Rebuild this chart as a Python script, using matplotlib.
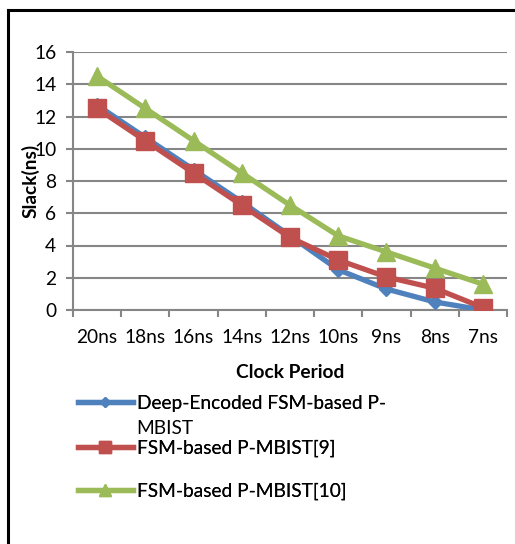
import matplotlib.pyplot as plt
from matplotlib.lines import Line2D
import numpy as np

periods = ['20ns', '18ns', '16ns', '14ns', '12ns', '10ns', '9ns', '8ns', '7ns']
deep_encoded = [12.7, 10.7, 8.7, 6.7, 4.6, 2.5, 1.3, 0.5, 0.0]
fsm_9 = [12.5, 10.5, 8.5, 6.5, 4.5, 3.1, 2.05, 1.35, 0.15]
fsm_10 = [14.5, 12.5, 10.5, 8.5, 6.5, 4.6, 3.6, 2.6, 1.6]

plt.rcParams['font.family'] = ['Lato', 'DejaVu Sans']
fs = 13.8

W, H = 515, 544
fig = plt.figure(figsize=(W / 100, H / 100), dpi=100)
ax = fig.add_axes([73 / W, 1 - 310 / H, 434 / W, 258 / H])

x = np.arange(len(periods))
grey = '#868686'

# axes and grid
ax.set_xlim(-0.5, len(periods) - 0.5)
ax.set_ylim(0, 16)
ax.set_yticks(range(0, 17, 2))
ax.yaxis.grid(True, color=grey, lw=1.5)
ax.set_axisbelow(True)
for s in ['top', 'right']:
    ax.spines[s].set_visible(False)
for s in ['left', 'bottom']:
    ax.spines[s].set_color(grey)
    ax.spines[s].set_linewidth(1.5)
ax.set_xticks(np.arange(-0.5, len(periods), 1.0))
ax.set_xticklabels([])
ax.set_xticks(x, minor=True)
ax.set_xticklabels(periods, minor=True, fontsize=fs)
ax.tick_params(axis='x', which='major', length=5, width=1.5, color=grey)
ax.tick_params(axis='x', which='minor', length=0, pad=14)
ax.tick_params(axis='y', length=5, width=1.5, color=grey, labelsize=fs, pad=7)

l1, = ax.plot(x, deep_encoded, color='#4F81BD', lw=3.8, marker='D', ms=7, zorder=3)
l2, = ax.plot(x, fsm_9, color='#C0504D', lw=3.8, marker='s', ms=12.5, zorder=4)
l3, = ax.plot(x, fsm_10, color='#9BBB59', lw=3.8, marker='^', ms=13.5, zorder=2)

ax.set_ylabel('Slack(ns)', fontsize=fs, fontweight='bold', va='center')
ax.yaxis.set_label_coords(-0.097, 0.5)
ax.set_xlabel('Clock Period', fontsize=fs, fontweight='bold', labelpad=13)

# legend entries placed one by one (Excel style layout)
def entry(handle, label, ytop):
    lg = fig.legend([handle], [label], loc='upper left',
                    bbox_to_anchor=(78 / W, 1 - ytop / H), frameon=False,
                    fontsize=fs, handlelength=2.85, handletextpad=0.25,
                    borderpad=0, borderaxespad=0)
    return lg

h1 = Line2D([], [], color='#4F81BD', lw=3.8, marker='D', ms=5)
h2 = Line2D([], [], color='#C0504D', lw=3.8, marker='s', ms=9)
h3 = Line2D([], [], color='#9BBB59', lw=3.8, marker='^', ms=9)
fig.add_artist(entry(h1, 'Deep-Encoded FSM-based P-', 395))
fig.text(136 / W, 1 - 428 / H, 'MBIST', fontsize=fs, va='center')
fig.add_artist(entry(h2, 'FSM-based P-MBIST[9]', 440))
fig.add_artist(entry(h3, 'FSM-based P-MBIST[10]', 483))

# outer frame lines (top and left only visible)
fig.add_artist(Line2D([8 / W, 1], [1 - 10 / H, 1 - 10 / H], color='black', lw=2.2))
fig.add_artist(Line2D([8 / W, 8 / W], [0, 1 - 10 / H], color='black', lw=2.2))

fig.savefig('out.png', dpi=100)
